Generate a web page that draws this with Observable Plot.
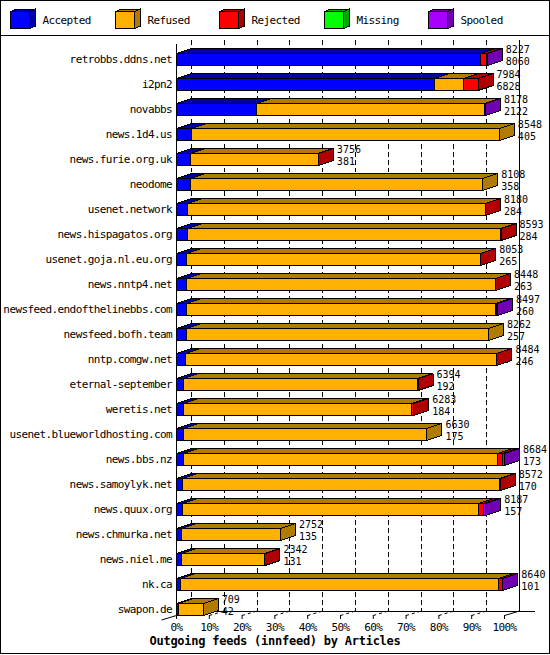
<!DOCTYPE html>
<html>
<head>
<meta charset="utf-8">
<script src="https://cdn.jsdelivr.net/npm/d3@7"></script>
<script src="https://cdn.jsdelivr.net/npm/@observablehq/plot@0.6"></script>
<style>
  html, body { margin: 0; padding: 0; background: #fff; }
  #frame { position: relative; width: 550px; height: 654px; box-sizing: border-box; border: 1px solid #000; background: #fff; overflow: hidden; }
  #legend { height: 34px; border-bottom: 1px solid #000; }
  #legend svg, #chart svg { display: block; }
  #title { height: 17px; line-height: 17px; text-align: center; font-family: "DejaVu Sans Mono", monospace; font-weight: bold; font-size: 12px; letter-spacing: -0.25px; color: #000; }
  #chart g[font-size="10"] { letter-spacing: 0px; }
</style>
</head>
<body>
<div id="frame">
  <div id="legend"></div>
  <div id="chart"></div>
  <div id="title"></div>
</div>
<script>
// ---------------- data ----------------
const titleText = "Outgoing feeds (innfeed) by Articles";
const hosts = [
  "retrobbs.ddns.net", "i2pn2", "novabbs", "news.1d4.us", "news.furie.org.uk",
  "neodome", "usenet.network", "news.hispagatos.org", "usenet.goja.nl.eu.org",
  "news.nntp4.net", "newsfeed.endofthelinebbs.com", "newsfeed.bofh.team",
  "nntp.comgw.net", "eternal-september", "weretis.net", "usenet.blueworldhosting.com",
  "news.bbs.nz", "news.samoylyk.net", "news.quux.org", "news.chmurka.net",
  "news.niel.me", "nk.ca", "swapon.de"
];
const totals   = [8227, 7984, 8178, 8548, 3756, 8108, 8180, 8593, 8053, 8448, 8497, 8262, 8484, 6394, 6283, 6630, 8684, 8572, 8187, 2752, 2342, 8640, 709];
const accepted = [8060, 6828, 2122, 405, 381, 358, 284, 284, 265, 263, 260, 257, 246, 192, 184, 175, 173, 170, 157, 135, 131, 101, 42];
const refused  = [0, 779, 6033, 8143, 3367, 7750, 7888, 8294, 7778, 8177, 8180, 8005, 8228, 6196, 6039, 6455, 8334, 8390, 7847, 2617, 2205, 8418, 667];
const rejected = [140, 377, 0, 0, 8, 0, 8, 15, 10, 8, 25, 0, 10, 6, 60, 0, 116, 12, 116, 0, 6, 106, 0];
const missing  = [0, 0, 0, 0, 0, 0, 0, 0, 0, 0, 0, 0, 0, 0, 0, 0, 0, 0, 0, 0, 0, 0, 0];
const spooled  = [27, 0, 23, 0, 0, 0, 0, 0, 0, 0, 32, 0, 0, 0, 0, 0, 61, 0, 67, 0, 0, 15, 0];
const seriesNames = ["Accepted", "Refused", "Rejected", "Missing", "Spooled"];
const frontColors = ["#0000FF", "#FFB000", "#FF0000", "#00FF00", "#A800FF"];
const darkColors  = ["#0000A8", "#B07C00", "#B00000", "#00A800", "#7000B0"];
const xTicks = [0, 10, 20, 30, 40, 50, 60, 70, 80, 90, 100];

// ---------------- geometry ----------------
const series = [accepted, refused, rejected, missing, spooled];
const maxTotal = d3.max(totals);
const pct = v => v / maxTotal * 100;
const X_RANGE = [175, 503];          // 0%..100% front plane (px)
const Y_RANGE = [23, 573];           // first..last row centre (px)
const PX_PCT = (X_RANGE[1] - X_RANGE[0]) / 100;
const PX_ROW = (Y_RANGE[1] - Y_RANGE[0]) / (hosts.length - 1);
const DEPTH_X = 15, DEPTH_Y = 5, HALF_H = 6, FLOOR_DY = 4.5;
const DXP = DEPTH_X / PX_PCT;        // depth in %
const DYR = DEPTH_Y / PX_ROW;        // depth in rows
const HR = HALF_H / PX_ROW;          // half bar height in rows
const yBot = hosts.length - 1 + HR;  // floor front edge (rows)
const FDYR = FLOOR_DY / PX_ROW;

// polygons for 3-D bars
const pts = [];
let pid = 0;
function poly(coords, fill) {
  const id = pid++;
  for (const [x, y] of coords) pts.push({id, x, y, fill});
}
hosts.forEach((h, i) => {
  let cum = 0;
  const segs = [];
  series.forEach((arr, k) => {
    const v = arr[i];
    if (v > 0) { segs.push({k, x0: pct(cum), x1: pct(cum + v)}); cum += v; }
  });
  const yt = i - HR, yb = i + HR;
  segs.forEach(s => {
    poly([[s.x0, yt], [s.x1, yt], [s.x1, yb], [s.x0, yb]], frontColors[s.k]);
    poly([[s.x0, yt], [s.x0 + DXP, yt - DYR], [s.x1 + DXP, yt - DYR], [s.x1, yt]], darkColors[s.k]);
  });
  const last = segs[segs.length - 1];
  poly([[last.x1, yt], [last.x1 + DXP, yt - DYR], [last.x1 + DXP, yb - DYR], [last.x1, yb]], darkColors[last.k]);
});

// ---------------- legend ----------------
{
  const W = 548, H = 34;
  const svg = d3.select("#legend").append("svg").attr("width", W).attr("height", H)
    .style("font-family", "'DejaVu Sans Mono', monospace").style("font-size", "11px").style("letter-spacing", "-0.6px");
  seriesNames.forEach((name, k) => {
    const ix = Math.round(9 + 104.5 * k);
    const g = svg.append("g").attr("transform", `translate(${ix},0)`).attr("shape-rendering", "crispEdges");
    g.append("polygon").attr("points", "0.5,10.5 6.5,8 25.5,8 19.5,10.5").attr("fill", darkColors[k]).attr("stroke", "#000");
    g.append("polygon").attr("points", "19.5,10.5 25.5,8 25.5,25 19.5,27.5").attr("fill", darkColors[k]).attr("stroke", "#000");
    g.append("rect").attr("x", 0.5).attr("y", 10.5).attr("width", 19).attr("height", 17).attr("fill", frontColors[k]).attr("stroke", "#000");
    g.append("text").attr("x", 32.5).attr("y", 19.5).attr("dominant-baseline", "middle").attr("fill", "#000").text(name);
  });
}

// ---------------- chart ----------------
const backTicks = xTicks.filter(t => t < 100);

const chart = Plot.plot({
  width: 548,
  height: 597,
  marginLeft: 175,
  marginRight: 45,
  marginTop: 8,
  marginBottom: 18,
  style: "font-family: 'DejaVu Sans Mono', monospace; font-size: 11px; letter-spacing: -0.6px; background: white; color: black; overflow: visible;",
  x: {domain: [0, 100], range: X_RANGE, ticks: xTicks, tickFormat: d => d + "%", tickSize: 4, tickPadding: 4, label: null},
  y: {domain: [0, hosts.length - 1], range: Y_RANGE, axis: null},
  color: {type: "identity"},
  marks: [
    // back wall grid lines (dashed) and right edge
    Plot.ruleX(backTicks, {dx: DEPTH_X, dy: -FLOOR_DY, stroke: "black", strokeDasharray: "5,3", shapeRendering: "crispEdges"}),
    Plot.ruleX([100], {dx: DEPTH_X, dy: -FLOOR_DY, stroke: "black", shapeRendering: "crispEdges"}),
    // back floor edge
    Plot.ruleY([yBot], {x1: () => 0, x2: () => 100 + 16 / PX_PCT, dx: DEPTH_X, dy: -FLOOR_DY, stroke: "black", shapeRendering: "crispEdges"}),
    // floor grid diagonals
    Plot.link(backTicks.slice(1), {x1: d => d, y1: () => yBot, x2: d => d + DXP, y2: () => yBot - FDYR, stroke: "black", strokeDasharray: "3,3"}),
    Plot.link([100], {x1: d => d, y1: () => yBot, x2: d => d + DXP, y2: () => yBot - FDYR, stroke: "black"}),
    Plot.link([0], {x1: d => d - DXP, y1: () => yBot + FDYR, x2: d => d, y2: () => yBot, stroke: "black"}),
    // left front axis
    Plot.ruleX([0], {stroke: "black", shapeRendering: "crispEdges"}),
    // 3-D bars
    Plot.line(pts, {x: "x", y: "y", z: "id", fill: "fill", stroke: "black", strokeWidth: 1, curve: "linear-closed", shapeRendering: "crispEdges"}),
    // host labels
    Plot.text(hosts, {x: () => 0, y: (d, i) => i, text: d => d, textAnchor: "end", dx: -4.5, dy: -0.3, fill: "black"}),
    // totals and accepted counts
    Plot.text(totals, {x: d => pct(d), y: (d, i) => i, text: d => String(d), textAnchor: "start", fontSize: 10, dx: 18.5, dy: -9.4, fill: "black"}),
    Plot.text(accepted, {x: (d, i) => pct(totals[i]), y: (d, i) => i, text: d => String(d), textAnchor: "start", fontSize: 10, dx: 18.5, dy: 2.4, fill: "black"})
  ]
});
document.getElementById("chart").appendChild(chart);
document.getElementById("title").textContent = titleText;
</script>
</body>
</html>
